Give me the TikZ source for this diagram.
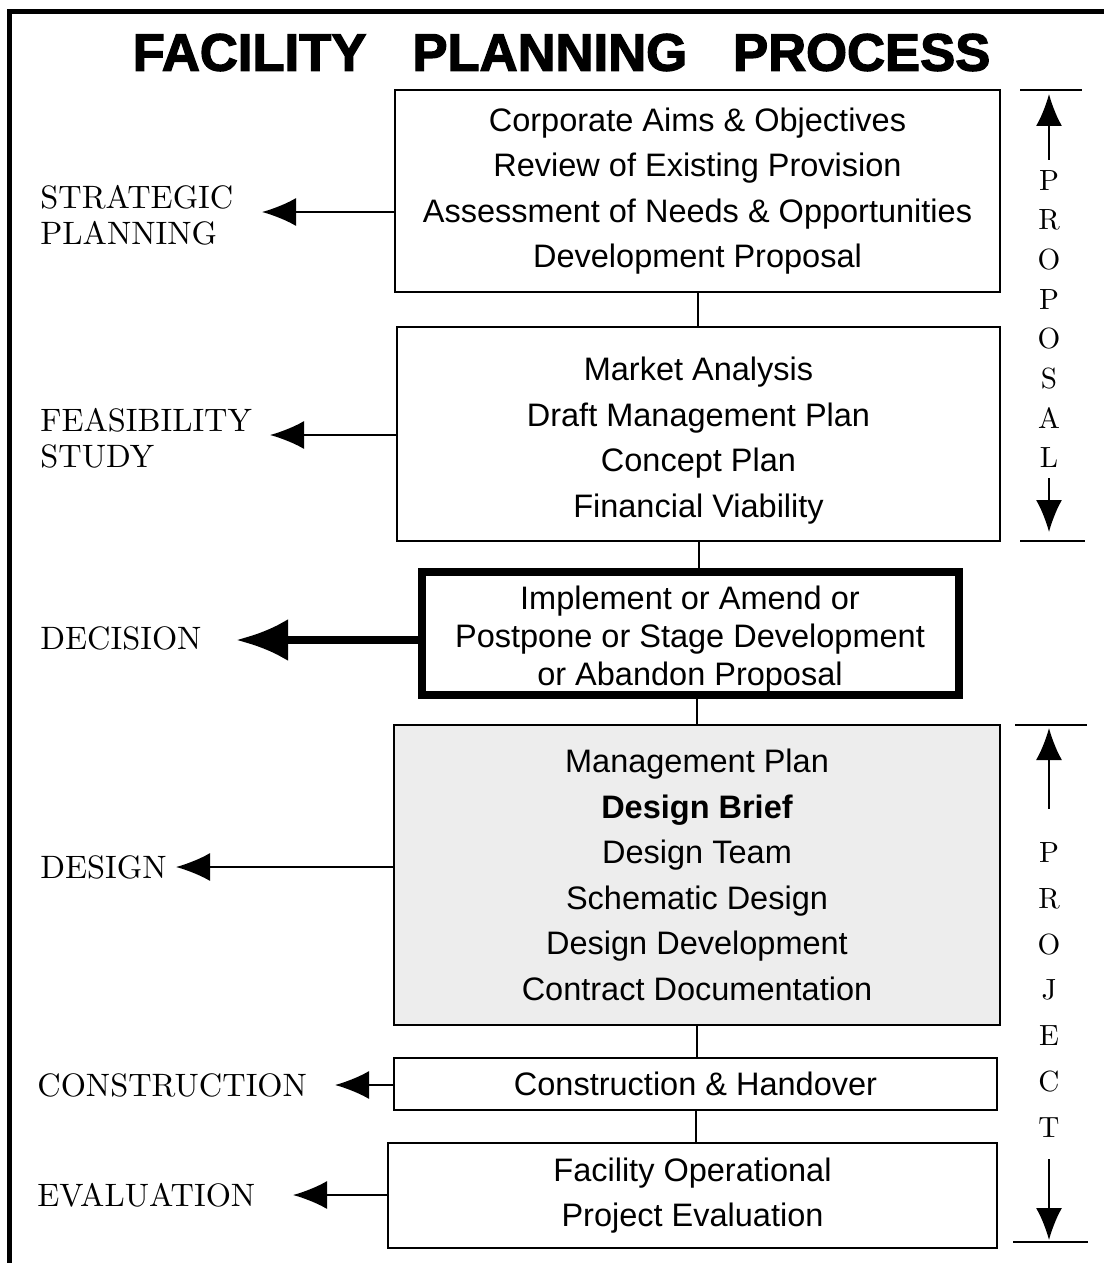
\documentclass[tikz,border=0pt]{standalone}
\usepackage{fontspec}
\newfontfamily\boxfont{Liberation Sans}
\newfontfamily\titlefont[BoldFeatures={FakeBold=2.5}]{Liberation Sans}
\newfontfamily\labelfont{lmroman10-regular.otf}
\usetikzlibrary{arrows.meta}

\tikzset{
  stage/.style={draw, line width=1pt, inner sep=0pt, align=center,
    font=\boxfont\fontsize{16.25}{22.75}\selectfont},
  phase/.style={anchor=west, align=left, inner sep=0pt,
    font=\labelfont\fontsize{16.2}{18}\selectfont},
  feed/.style={line width=1pt, -{Latex[length=17pt,width=14pt]}},
  span/.style={align=center, inner sep=0pt},
  spanarrow/.style={line width=1pt, -{Latex[length=16pt,width=13pt]}},
  tick/.style={line width=1pt},
}

\begin{document}
\begin{tikzpicture}[x=0.5pt,y=-0.5pt]
\useasboundingbox (0,0) rectangle (1104,1263);

% frame and heading
\draw[line width=2.5pt] (9.5,1263) -- (9.5,12) -- (1104,12);
\node (title) at (561.5,52.5) {\titlefont\bfseries\fontsize{26.3}{30}\selectfont
  FACILITY\hspace{23pt}PLANNING\hspace{23pt}PROCESS};

% the stages
\node[stage, minimum width=302.5pt, minimum height=101pt] (strat) at (697.5,191)
  {Corporate Aims \& Objectives\\Review of Existing Provision\\
   Assessment of Needs \& Opportunities\\Development Proposal};
\node[stage, minimum width=301.5pt, minimum height=107pt] (feas) at (698.5,434)
  {\rule{0pt}{18.2pt}Market Analysis\\Draft Management Plan\\Concept Plan\\Financial Viability};
\node[stage, line width=4pt, minimum width=268.5pt, minimum height=61.5pt,
  font=\boxfont\fontsize{16.25}{19}\selectfont] (decide) at (690,633)
  {\rule{0pt}{14.5pt}Implement or Amend or\\Postpone or Stage Development\\
   or Abandon \smash{Proposal}};
\node[stage, fill=black!7, minimum width=303pt, minimum height=150pt] (design) at (697,875)
  {Management Plan\\\textbf{Design Brief}\\Design Team\\Schematic Design\\
   Design Development\\Contract Documentation};
\node[stage, minimum width=301.5pt, minimum height=26pt] (build) at (695.5,1084)
  {Construction \& Handover};
\node[stage, minimum width=304.5pt, minimum height=52.5pt] (eval) at (692.5,1195.5)
  {Facility Operational\\Project Evaluation};

\draw[line width=1pt] (strat.south) -- (strat.south |- feas.north);
\draw[line width=1pt] (feas.south) -- (feas.south |- decide.north);
\draw[line width=1pt] (decide.south -| design.north) -- (design.north);
\draw[line width=1pt] (design.south) -- (design.south |- build.north);
\draw[line width=1pt] (build.south) -- (build.south |- eval.north);

% phase names on the left
\node[phase] (lstrat) at (40,215) {STRATEGIC\\PLANNING};
\node[phase] (lfeas) at (40,438) {FEASIBILITY\\STUDY};
\node[phase] (ldecide) at (40,638) {DECISION};
\node[phase] (ldesign) at (40,867) {DESIGN};
\node[phase] (lbuild) at (37,1085) {CONSTRUCTION};
\node[phase] (leval) at (37,1195) {EVALUATION};

\coordinate (tstrat) at (262,212);
\coordinate (tfeas) at (270,435);
\coordinate (tdecide) at (236,640);
\coordinate (tdesign) at (176,867);
\coordinate (tbuild) at (335,1085);
\coordinate (teval) at (293,1195);

\draw[feed] (strat.west |- tstrat) -- (tstrat);
\draw[feed] (feas.west |- tfeas) -- (tfeas);
\draw[line width=4pt, -{Latex[length=26pt,width=21pt]}] (decide.west |- tdecide) -- (tdecide);
\draw[feed] (design.west |- tdesign) -- (tdesign);
\draw[feed] (build.west |- tbuild) -- (tbuild);
\draw[feed] (eval.west |- teval) -- (teval);

% proposal / project spans on the right
\node[span, font=\labelfont\fontsize{14.6}{19.85}\selectfont] (prop) at (1049,319)
  {P\\R\\O\\P\\O\\S\\A\\L};
\coordinate (ptop) at (1049,90);
\coordinate (pbot) at (1049,541);
\draw[tick] ([xshift=-14.5pt]ptop) -- ([xshift=16.5pt]ptop);
\draw[tick] ([xshift=-14.5pt]pbot) -- ([xshift=18pt]pbot);
\draw[spanarrow, shorten <=5pt] (prop.north) -- ([yshift=-2pt]ptop);
\draw[spanarrow, shorten <=5pt, shorten >=4.5pt] (prop.south) -- (pbot);

\node[span, font=\labelfont\fontsize{14.6}{22.85}\selectfont] (proj) at (1049,990)
  {P\\R\\O\\J\\E\\C\\T};
\coordinate (jtop) at (1049,725);
\coordinate (jbot) at (1049,1242);
\draw[tick] ([xshift=-17pt]jtop) -- ([xshift=19pt]jtop);
\draw[tick] ([xshift=-18pt]jbot) -- ([xshift=19.5pt]jbot);
\draw[spanarrow, shorten <=17pt] (proj.north) -- ([yshift=-1.5pt]jtop);
\draw[spanarrow, shorten <=11pt, shorten >=1pt] (proj.south) -- (jbot);
\end{tikzpicture}
\end{document}
